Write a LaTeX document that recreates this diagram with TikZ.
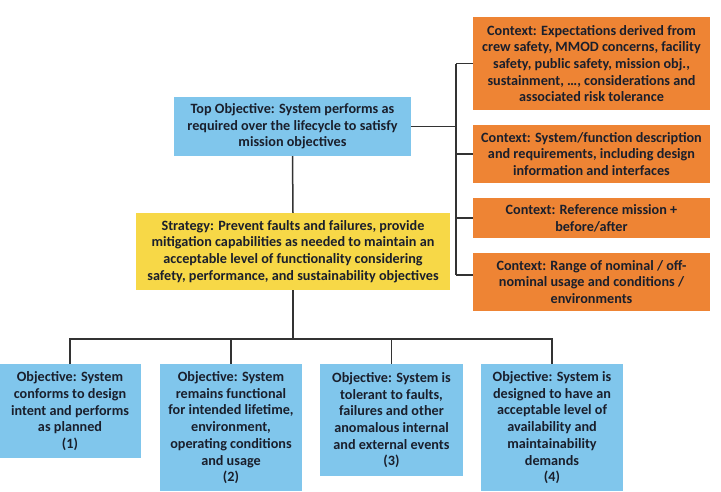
\documentclass[tikz,border=0pt]{standalone}
\usepackage{fontspec}
\setmainfont{Carlito}
\begin{document}
\begin{tikzpicture}[x=1pt,y=-1pt,
  box/.style={inner sep=0pt, align=center, font=\fontsize{14.2}{16.7}\selectfont\bfseries, text=txtcol},
  objbox/.style={box, fill=objblue},
  ctxbox/.style={box, fill=ctxorange, minimum width=237pt},
  lowbox/.style={box, fill=objblue, minimum width=142pt, anchor=north},
  link/.style={draw=linegray, line width=1.5pt}]
\definecolor{objblue}{HTML}{80C6EC}
\definecolor{ctxorange}{HTML}{EE8434}
\definecolor{strayellow}{HTML}{F7D847}
\definecolor{txtcol}{HTML}{1A1F2C}
\definecolor{linegray}{HTML}{333333}
\useasboundingbox[fill=white] (0,0) rectangle (721,491);

% top objective and strategy
\node[objbox, minimum width=237pt, minimum height=59pt] (top) at (292.5,126.5)
  {Top Objective: System performs as\\required over the lifecycle to satisfy\\mission objectives};
\node[box, fill=strayellow, minimum width=314pt, minimum height=77pt] (strat) at (293,251.5)
  {Strategy: Prevent faults and failures, provide\\mitigation capabilities as needed to maintain an\\acceptable level of functionality considering\\safety, performance, and sustainability objectives};

% context boxes
\node[ctxbox, minimum height=93pt] (c1) at (591.5,63.5)
  {Context: Expectations derived from\\crew safety, MMOD concerns, facility\\safety, public safety, mission obj.,\\sustainment, \ldots, considerations and\\associated risk tolerance};
\node[ctxbox, minimum height=58pt] (c2) at (591.5,154)
  {Context: System/function description\\and requirements, including design\\information and interfaces};
\node[ctxbox, minimum height=40pt] (c3) at (591.5,218)
  {Context: Reference mission +\\before/after};
\node[ctxbox, minimum height=58pt] (c4) at (591.5,282)
  {Context: Range of nominal / off-\\nominal usage and conditions /\\environments};

% lower objectives
\node[lowbox, minimum height=94pt] (o1) at (70,364)
  {Objective: System\\conforms to design\\intent and performs\\as planned\\(1)};
\node[lowbox, minimum height=127pt] (o2) at (231,364)
  {Objective: System\\remains functional\\for intended lifetime,\\environment,\\operating conditions\\and usage\\(2)};
\node[lowbox, minimum width=143pt, minimum height=112pt] (o3) at (391.5,364)
  {Objective: System is\\tolerant to faults,\\failures and other\\anomalous internal\\and external events\\(3)};
\node[lowbox, minimum height=127pt] (o4) at (552,364)
  {Objective: System is\\designed to have an\\acceptable level of\\availability and\\maintainability\\demands\\(4)};

% context bracket
\coordinate (cb) at (456,0);
\coordinate (c4t) at ([yshift=7pt]c4.west);
\draw[link] (top.east) -- (top.east -| cb);
\draw[link] (c1.west -| cb) -- (c4t -| cb);
\draw[link] (c1.west -| cb) -- (c1.west);
\draw[link] (c2.west -| cb) -- (c2.west);
\draw[link] (c3.west -| cb) -- (c3.west);
\draw[link] (c4t -| cb) -- (c4t);

% tree
\coordinate (bus) at (0,339);
\draw[link] (top.south) -- (strat.north);
\draw[link] (strat.south) -- (strat.south |- bus);
\draw[link] (o1.north) -- (o1.north |- bus) -- (o4.north |- bus) -- (o4.north);
\draw[link] (o2.north |- bus) -- (o2.north);
\draw[link] (o3.north |- bus) -- (o3.north);
\end{tikzpicture}
\end{document}
